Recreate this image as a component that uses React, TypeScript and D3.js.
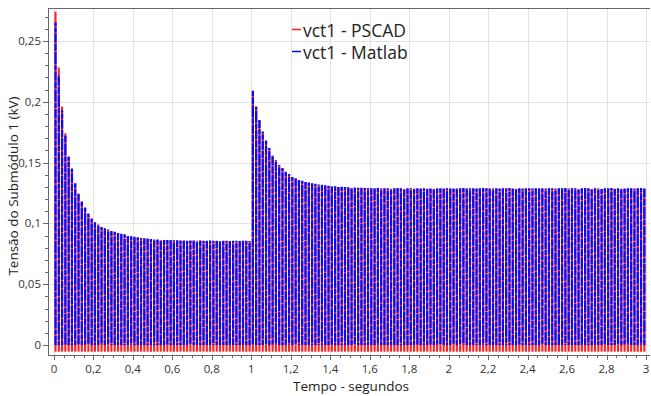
import React from 'react';
import * as d3 from 'd3';

const X_TICKS = [0, 0.2, 0.4, 0.6, 0.8, 1, 1.2, 1.4, 1.6, 1.8, 2, 2.2, 2.4, 2.6, 2.8, 3];
const X_TICK_LABELS = ['0', '0,2', '0,4', '0,6', '0,8', '1', '1,2', '1,4', '1,6', '1,8', '2', '2,2', '2,4', '2,6', '2,8', '3'];
const Y_TICKS = [0, 0.05, 0.1, 0.15, 0.2, 0.25];
const Y_TICK_LABELS = ['0', '0,05', '0,1', '0,15', '0,2', '0,25'];

const CYCLE_FREQ = 60;
const SEG1_START = 0.008;
const SEG2_START = 1.008;

// peak of each cycle (kV), Matlab series, 0 – 1 s
const seg1Matlab = [
  0.265, 0.222, 0.193, 0.172, 0.155, 0.145, 0.133, 0.125, 0.118, 0.113,
  0.108, 0.104, 0.101, 0.099, 0.097, 0.096, 0.095, 0.094, 0.093, 0.092,
  0.0915, 0.091, 0.090, 0.0895, 0.089, 0.0885, 0.088, 0.0877, 0.0875, 0.0872,
  0.087, 0.0868, 0.0866, 0.0865, 0.0864, 0.0863, 0.0862, 0.0861, 0.086, 0.086,
  0.0858, 0.086, 0.0859, 0.0857, 0.086, 0.0858, 0.0857, 0.0859, 0.0856, 0.0858,
  0.0857, 0.0856, 0.0858, 0.0855, 0.0857, 0.0856, 0.0855, 0.0857, 0.0856, 0.0855,
];

// peak of each cycle (kV), Matlab series, 1 – 3 s
const seg2Matlab = [
  0.209, 0.196, 0.185, 0.1755, 0.168, 0.162, 0.156, 0.152, 0.148, 0.1455,
  0.1425, 0.1405, 0.138, 0.137, 0.1357, 0.135, 0.1343, 0.1335, 0.133, 0.1325,
  0.132, 0.1317, 0.1313, 0.131, 0.1307, 0.1304, 0.1302, 0.13, 0.1298, 0.1296,
  0.1295, 0.1294, 0.1293, 0.1292, 0.1291, 0.129,
  0.1289, 0.1288, 0.1290, 0.1287, 0.1289, 0.1288, 0.1286, 0.1289, 0.1290, 0.1288,
  0.1287, 0.1289, 0.1288, 0.1290, 0.1288, 0.1286, 0.1288, 0.1289, 0.1287, 0.1288,
  0.1290, 0.1288, 0.1287, 0.1289, 0.1288, 0.1286, 0.1289, 0.1288, 0.1290, 0.1287,
  0.1288, 0.1289, 0.1287, 0.1288, 0.1290, 0.1288, 0.1286, 0.1289, 0.1288, 0.1287,
  0.1289, 0.1288, 0.1290, 0.1287, 0.1288, 0.1289, 0.1286, 0.1288, 0.1289, 0.1287,
  0.1288, 0.1290, 0.1288, 0.1287, 0.1289, 0.1288, 0.1286, 0.1289, 0.1288, 0.1290,
  0.1287, 0.1288, 0.1289, 0.1287, 0.1288, 0.1290, 0.1288, 0.1286, 0.1289, 0.1288,
  0.1287, 0.1289, 0.1288, 0.1290, 0.1287, 0.1288, 0.1289, 0.1286, 0.1288, 0.1289,
  0.1287, 0.1288, 0.1290, 0.1288,
];

// PSCAD differs from Matlab only in the first peaks and in its minimum
const pscadFirstPeaks = [0.274, 0.228, 0.196, 0.174];
const PSCAD_MIN = -0.0055;
const MATLAB_MIN = 0;

const W = 651;
const H = 396;
const L = 48, R = 650, T = 8, B = 355;

const FONT = '"Open Sans", "Noto Sans", sans-serif';

export default function App() {
  const x = d3.scaleLinear().domain([-0.03, 3.02]).range([L, R]);
  const y = d3.scaleLinear().domain([-0.0082, 0.277]).range([B, T]);

  const cycles: { t: number; matlab: number; pscad: number; k: number }[] = [];
  seg1Matlab.forEach((v, k) => {
    cycles.push({ t: SEG1_START + k / CYCLE_FREQ, matlab: v, pscad: k < pscadFirstPeaks.length ? pscadFirstPeaks[k] : v - 0.0004, k });
  });
  seg2Matlab.forEach((v, k) => {
    cycles.push({ t: SEG2_START + k / CYCLE_FREQ, matlab: v, pscad: v - 0.0004, k: k + 60 });
  });

  const xMinor = d3.range(0, 3.0001, 0.05);
  const yMinor = d3.range(0, 0.2701, 0.01);

  return (
    <svg width={W} height={H} style={{ position: 'absolute', left: 0, top: 0, background: '#fff' }} fontFamily={FONT}>
      <defs>
        <clipPath id="plot">
          <rect x={L + 1} y={T + 1} width={R - L - 1} height={B - T - 1} />
        </clipPath>
      </defs>
      {/* grid */}
      <g stroke="#e2e2e2" strokeWidth={1}>
        {X_TICKS.map((t) => (
          <line key={'gx' + t} x1={Math.round(x(t)) + 0.5} x2={Math.round(x(t)) + 0.5} y1={T} y2={B} />
        ))}
        {Y_TICKS.map((v) => (
          <line key={'gy' + v} x1={L} x2={R} y1={Math.round(y(v)) + 0.5} y2={Math.round(y(v)) + 0.5} />
        ))}
      </g>
      {/* data */}
      <g clipPath="url(#plot)">
        <g stroke="#ff2020" strokeWidth={2.1}>
          {cycles.map((c) => (
            <line key={'r' + c.k} x1={x(c.t)} x2={x(c.t)} y1={y(PSCAD_MIN)} y2={y(c.pscad)} />
          ))}
        </g>
        <g stroke="#0c0cf2" strokeWidth={2.3}>
          {cycles.map((c) => (
            <line
              key={'b' + c.k}
              x1={x(c.t)}
              x2={x(c.t)}
              y1={y(MATLAB_MIN)}
              y2={y(c.matlab)}
              strokeDasharray="9 1.2 5 1.2 12 1.2 7 1.2"
              strokeDashoffset={(c.k * 5.3) % 37.8}
            />
          ))}
        </g>
      </g>
      {/* frame */}
      <g stroke="#666" strokeWidth={1} fill="none">
        <line x1={L + 0.5} x2={L + 0.5} y1={T} y2={B} />
        <line x1={L} x2={R} y1={T + 0.5} y2={T + 0.5} />
        <line x1={L} x2={R} y1={B + 0.5} y2={B + 0.5} />
      </g>
      {/* ticks */}
      <g stroke="#666" strokeWidth={1}>
        {xMinor.map((t, i) => (
          <line key={'xm' + i} x1={Math.round(x(t)) + 0.5} x2={Math.round(x(t)) + 0.5} y1={B} y2={B + 3} />
        ))}
        {X_TICKS.map((t) => (
          <line key={'xt' + t} x1={Math.round(x(t)) + 0.5} x2={Math.round(x(t)) + 0.5} y1={B} y2={B + 5} />
        ))}
        {yMinor.map((v, i) => (
          <line key={'ym' + i} x1={L - 3} x2={L} y1={Math.round(y(v)) + 0.5} y2={Math.round(y(v)) + 0.5} />
        ))}
        {Y_TICKS.map((v) => (
          <line key={'yt' + v} x1={L - 5} x2={L} y1={Math.round(y(v)) + 0.5} y2={Math.round(y(v)) + 0.5} />
        ))}
      </g>
      <g fill="#333" fontSize={11.5}>
        {X_TICKS.map((t, i) => (
          <text key={'xl' + t} x={x(t)} y={373} textAnchor="middle">{X_TICK_LABELS[i]}</text>
        ))}
        {Y_TICKS.map((v, i) => (
          <text key={'yl' + v} x={41} y={y(v) + 4} textAnchor="end">{Y_TICK_LABELS[i]}</text>
        ))}
      </g>
      <text x={351} y={391} textAnchor="middle" fontSize={13.5} fill="#222">Tempo - segundos</text>
      <text transform="translate(18,186) rotate(-90)" textAnchor="middle" fontSize={13.5} fill="#222">Tensão do Submódulo 1 (kV)</text>
      {/* legend */}
      <line x1={292} x2={301} y1={29.5} y2={29.5} stroke="#ff2020" strokeWidth={1.5} />
      <text x={303} y={37} fontSize={17.5} fill="#222">vct1 - PSCAD</text>
      <line x1={292} x2={301} y1={51.5} y2={51.5} stroke="#0c0cf2" strokeWidth={1.5} />
      <text x={303} y={59} fontSize={17.5} fill="#222">vct1 - Matlab</text>
    </svg>
  );
}
